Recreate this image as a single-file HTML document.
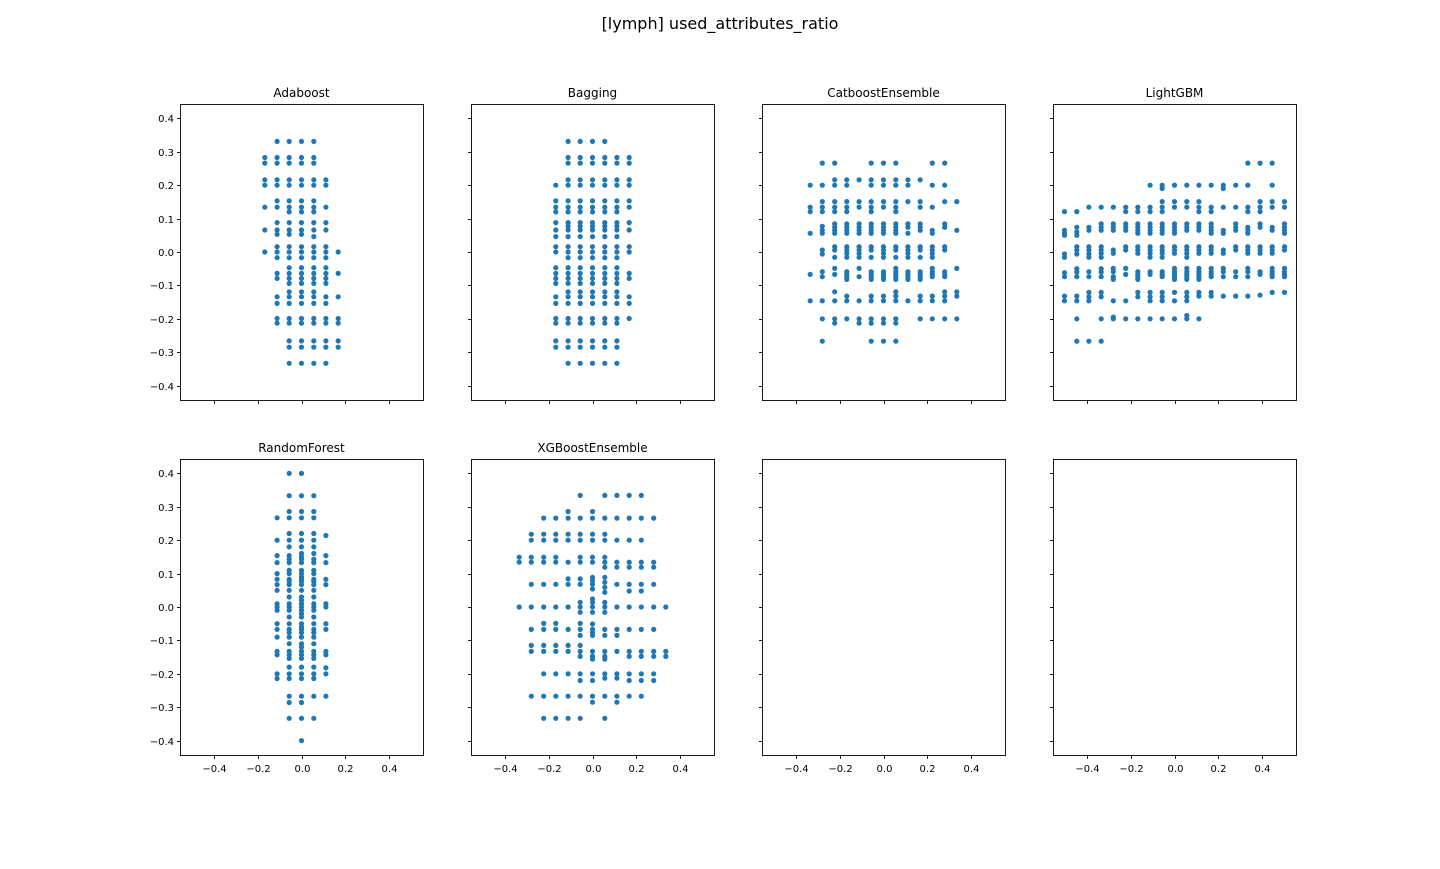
<!DOCTYPE html>
<html><head><meta charset="utf-8"><style>
body{margin:0;background:#fff}
svg text{font-family:"DejaVu Sans","Liberation Sans",sans-serif;fill:#000}
</style></head><body>
<svg id="fig" width="1440" height="864" xmlns="http://www.w3.org/2000/svg">
<rect width="1440" height="864" fill="#fff"/>
<text x="720" y="29" font-size="16" text-anchor="middle">[lymph] used_attributes_ratio</text>
</svg>
<script>
const xTicks=[-0.4,-0.2,0,0.2,0.4];
const xTickLabels=["−0.4","−0.2","0.0","0.2","0.4"];
const yTicks=[0.4,0.3,0.2,0.1,0,-0.1,-0.2,-0.3,-0.4];
const yTickLabels=["0.4","0.3","0.2","0.1","0.0","−0.1","−0.2","−0.3","−0.4"];
const panelTitles=["Adaboost","Bagging","CatboostEnsemble","LightGBM","RandomForest","XGBoostEnsemble","",""];

const adaCols=[-0.167,-0.111,-0.056,0,0.056,0.111,0.167];
const adaYs=[
[0.283,0.266,0.216,0.2,0.134,0.066,0],
[0.331,0.283,0.266,0.216,0.2,0.153,0.134,0.088,0.066,0.053,0.016,0,-0.017,-0.064,-0.079,-0.134,-0.154,-0.199,-0.213],
[0.331,0.283,0.266,0.216,0.2,0.153,0.134,0.12,0.088,0.066,0.053,0.016,0,-0.017,-0.047,-0.064,-0.079,-0.094,-0.119,-0.134,-0.154,-0.199,-0.213,-0.266,-0.285,-0.333],
[0.331,0.283,0.266,0.216,0.2,0.153,0.134,0.12,0.088,0.066,0.053,0.016,0,-0.017,-0.047,-0.064,-0.079,-0.094,-0.119,-0.134,-0.154,-0.199,-0.213,-0.266,-0.285,-0.333],
[0.331,0.283,0.266,0.216,0.2,0.153,0.134,0.12,0.088,0.066,0.046,0.016,0,-0.017,-0.047,-0.064,-0.079,-0.094,-0.119,-0.134,-0.154,-0.199,-0.213,-0.266,-0.285,-0.333],
[0.216,0.2,0.134,0.088,0.066,0.016,0,-0.017,-0.047,-0.064,-0.079,-0.094,-0.134,-0.154,-0.199,-0.213,-0.266,-0.285,-0.333],
[0,-0.064,-0.134,-0.199,-0.213,-0.266,-0.285]];

const bagCols=[-0.167,-0.111,-0.056,0,0.056,0.111,0.167];
const bagYs=[
[0.2,0.153,0.134,0.12,0.088,0.066,0.046,0.016,0,-0.047,-0.064,-0.079,-0.094,-0.134,-0.154,-0.199,-0.213,-0.266,-0.285],
[0.331,0.283,0.266,0.216,0.2,0.153,0.134,0.12,0.088,0.077,0.066,0.046,0.016,0,-0.017,-0.047,-0.064,-0.079,-0.094,-0.119,-0.134,-0.154,-0.199,-0.213,-0.266,-0.285,-0.333],
[0.331,0.283,0.266,0.216,0.2,0.153,0.134,0.12,0.088,0.077,0.066,0.046,0.016,0,-0.017,-0.047,-0.064,-0.079,-0.094,-0.119,-0.134,-0.154,-0.199,-0.213,-0.266,-0.285,-0.333],
[0.331,0.283,0.266,0.216,0.2,0.153,0.134,0.12,0.088,0.077,0.066,0.046,0.016,0,-0.017,-0.047,-0.064,-0.079,-0.094,-0.119,-0.134,-0.154,-0.199,-0.213,-0.266,-0.285,-0.333],
[0.331,0.283,0.266,0.216,0.2,0.153,0.134,0.12,0.088,0.077,0.066,0.046,0.016,0,-0.017,-0.047,-0.064,-0.079,-0.094,-0.119,-0.134,-0.154,-0.199,-0.213,-0.266,-0.285,-0.333],
[0.283,0.266,0.216,0.2,0.153,0.134,0.12,0.088,0.077,0.066,0.046,0.016,0,-0.017,-0.047,-0.064,-0.079,-0.094,-0.119,-0.134,-0.154,-0.199,-0.213,-0.266,-0.285,-0.333],
[0.283,0.266,0.216,0.2,0.153,0.134,0.088,0.066,0.016,0,-0.064,-0.079,-0.134,-0.154,-0.199]];

const catCols=[-0.333,-0.278,-0.222,-0.167,-0.111,-0.056,0,0.056,0.111,0.167,0.222,0.278,0.333];
const catYs=[
[0.2,0.134,0.121,0.056,-0.067,-0.146],
[0.266,0.2,0.151,0.134,0.121,0.077,0.065,0.056,0.006,-0.006,-0.059,-0.074,-0.146,-0.2,-0.267],
[0.266,0.216,0.2,0.151,0.134,0.121,0.084,0.074,0.065,0.056,0.016,0.006,-0.016,-0.049,-0.067,-0.119,-0.146,-0.2,-0.213],
[0.216,0.2,0.151,0.134,0.121,0.084,0.074,0.065,0.056,0.016,0.006,-0.004,-0.016,-0.059,-0.067,-0.074,-0.082,-0.132,-0.146,-0.2],
[0.216,0.151,0.134,0.084,0.074,0.065,0.056,0.016,0.006,-0.004,-0.016,-0.049,-0.074,-0.146,-0.2,-0.213],
[0.266,0.216,0.2,0.151,0.134,0.121,0.084,0.074,0.065,0.056,0.016,0.006,-0.016,-0.059,-0.067,-0.074,-0.082,-0.132,-0.146,-0.2,-0.213,-0.267],
[0.266,0.216,0.2,0.151,0.134,0.084,0.074,0.065,0.056,0.016,0.006,-0.004,-0.016,-0.059,-0.067,-0.074,-0.082,-0.132,-0.146,-0.2,-0.213,-0.267],
[0.266,0.216,0.2,0.151,0.134,0.121,0.084,0.074,0.065,0.056,0.016,0.006,-0.016,-0.049,-0.059,-0.067,-0.074,-0.082,-0.119,-0.132,-0.146,-0.2,-0.213,-0.267],
[0.216,0.2,0.151,0.084,0.074,0.056,0.016,0.006,-0.004,-0.016,-0.059,-0.067,-0.074,-0.082,-0.146],
[0.216,0.151,0.134,0.084,0.074,0.065,0.016,0.006,-0.016,-0.059,-0.067,-0.074,-0.082,-0.132,-0.146,-0.2],
[0.266,0.2,0.134,0.065,0.056,0.016,0.006,-0.004,-0.016,-0.049,-0.059,-0.067,-0.074,-0.132,-0.146,-0.2],
[0.266,0.2,0.151,0.084,0.074,0.016,0.006,-0.059,-0.067,-0.074,-0.119,-0.132,-0.146,-0.2],
[0.151,0.065,-0.049,-0.119,-0.132,-0.2]];

const lgbCols=[-0.5,-0.444,-0.389,-0.333,-0.278,-0.222,-0.167,-0.111,-0.056,0,0.056,0.111,0.167,0.222,0.278,0.333,0.389,0.444,0.5];
const lgbYs=[
[0.121,0.065,0.056,0.05,-0.006,-0.016,-0.062,-0.074,-0.132,-0.146],
[0.121,0.074,0.06,0.05,0.016,0.006,-0.006,-0.05,-0.06,-0.074,-0.132,-0.146,-0.2,-0.267],
[0.134,0.074,0.065,0.016,0.006,-0.006,-0.016,-0.059,-0.074,-0.121,-0.134,-0.146,-0.267],
[0.134,0.084,0.074,0.065,0.016,0.006,-0.004,-0.016,-0.05,-0.06,-0.074,-0.121,-0.134,-0.2,-0.267],
[0.134,0.084,0.074,0.065,0.006,-0.004,-0.049,-0.059,-0.074,-0.082,-0.146,-0.195,-0.2],
[0.134,0.121,0.084,0.074,0.065,0.016,0.006,-0.049,-0.067,-0.146,-0.2],
[0.134,0.121,0.084,0.074,0.065,0.056,0.016,0.006,-0.004,-0.059,-0.067,-0.074,-0.082,-0.121,-0.134,-0.2],
[0.2,0.134,0.121,0.084,0.074,0.065,0.056,0.016,0.006,-0.004,-0.016,-0.059,-0.067,-0.121,-0.134,-0.146,-0.2],
[0.2,0.19,0.151,0.134,0.121,0.084,0.074,0.065,0.056,0.016,0.006,-0.004,-0.016,-0.059,-0.067,-0.074,-0.121,-0.134,-0.146,-0.2],
[0.2,0.151,0.134,0.084,0.074,0.065,0.056,0.016,0.006,-0.004,-0.049,-0.059,-0.067,-0.074,-0.082,-0.121,-0.146,-0.2],
[0.2,0.151,0.134,0.084,0.074,0.065,0.016,0.006,-0.004,-0.016,-0.049,-0.059,-0.067,-0.074,-0.082,-0.121,-0.134,-0.146,-0.2,-0.19],
[0.2,0.151,0.134,0.121,0.084,0.074,0.065,0.016,0.006,-0.004,-0.049,-0.059,-0.067,-0.074,-0.082,-0.121,-0.132,-0.2],
[0.2,0.134,0.121,0.084,0.074,0.065,0.056,0.016,0.006,-0.004,-0.049,-0.059,-0.067,-0.074,-0.121,-0.132],
[0.2,0.19,0.134,0.065,0.056,0.006,-0.004,-0.049,-0.059,-0.074,-0.132],
[0.2,0.134,0.084,0.074,0.065,0.016,0.006,-0.059,-0.074,-0.132],
[0.266,0.2,0.134,0.121,0.074,0.065,0.056,0.016,0.006,-0.004,-0.049,-0.059,-0.074,-0.132],
[0.266,0.151,0.134,0.121,0.084,0.074,0.016,0.006,-0.004,-0.059,-0.067,-0.129],
[0.266,0.2,0.151,0.134,0.074,0.065,0.016,0.006,-0.004,-0.049,-0.059,-0.067,-0.074,-0.121],
[0.151,0.134,0.084,0.074,0.065,0.056,0.016,0.006,-0.049,-0.059,-0.067,-0.074,-0.121]];

const rfCols=[-0.111,-0.056,0,0.056,0.111];
const rfYs=[
[0.267,0.2,0.154,0.133,0.1,0.083,0.067,0.05,0.01,0,-0.01,-0.05,-0.067,-0.09,-0.133,-0.143,-0.2,-0.214],
[0.4,0.333,0.286,0.267,0.22,0.2,0.18,0.154,0.143,0.133,0.11,0.1,0.083,0.077,0.067,0.05,0.03,0.01,0,-0.01,-0.03,-0.05,-0.067,-0.077,-0.09,-0.11,-0.133,-0.143,-0.154,-0.18,-0.2,-0.214,-0.267,-0.286,-0.333],
[0.4,0.333,0.286,0.267,0.22,0.2,0.18,0.16,0.15,0.143,0.133,0.11,0.1,0.09,0.083,0.077,0.067,0.05,0.03,0.02,0.01,0,-0.01,-0.02,-0.03,-0.05,-0.06,-0.067,-0.077,-0.09,-0.11,-0.12,-0.133,-0.143,-0.154,-0.18,-0.2,-0.214,-0.267,-0.286,-0.333,-0.4],
[0.333,0.286,0.267,0.22,0.2,0.18,0.16,0.143,0.133,0.11,0.1,0.083,0.077,0.067,0.05,0.03,0.01,0,-0.01,-0.03,-0.05,-0.067,-0.077,-0.09,-0.11,-0.133,-0.143,-0.154,-0.18,-0.2,-0.214,-0.267,-0.333],
[0.214,0.154,0.133,0.083,0.067,0.01,0,-0.05,-0.067,-0.133,-0.143,-0.182,-0.2,-0.267]];

const xgbCols=[-0.333,-0.278,-0.222,-0.167,-0.111,-0.056,0,0.056,0.111,0.167,0.222,0.278,0.333];
const xgbYs=[
[0.149,0.134,0],
[0.218,0.2,0.149,0.134,0.068,0,-0.067,-0.115,-0.133,-0.267],
[0.266,0.218,0.2,0.149,0.134,0.068,0,-0.049,-0.067,-0.115,-0.133,-0.2,-0.267,-0.333],
[0.266,0.218,0.2,0.149,0.134,0.068,0,-0.049,-0.067,-0.115,-0.133,-0.2,-0.267,-0.333],
[0.286,0.266,0.218,0.2,0.134,0.084,0.068,0,-0.067,-0.115,-0.133,-0.2,-0.267,-0.333],
[0.334,0.266,0.218,0.2,0.149,0.134,0.084,0.068,0.014,0,-0.016,-0.049,-0.067,-0.085,-0.115,-0.133,-0.148,-0.2,-0.22,-0.267,-0.333],
[0.286,0.266,0.218,0.2,0.149,0.134,0.089,0.079,0.068,0.054,0.024,0.014,0,-0.016,-0.051,-0.067,-0.076,-0.085,-0.133,-0.148,-0.156,-0.2,-0.22,-0.267,-0.285],
[0.334,0.266,0.218,0.2,0.149,0.134,0.119,0.089,0.074,0.059,0.044,0.014,0,-0.016,-0.067,-0.085,-0.133,-0.148,-0.156,-0.2,-0.213,-0.267,-0.333],
[0.334,0.266,0.2,0.134,0.119,0.068,0,-0.067,-0.085,-0.133,-0.2,-0.213,-0.267,-0.285],
[0.334,0.266,0.2,0.134,0.119,0.068,0.048,0,-0.067,-0.133,-0.148,-0.2,-0.22,-0.267],
[0.334,0.266,0.2,0.134,0.119,0.068,0.048,0,-0.067,-0.133,-0.148,-0.2,-0.22,-0.267],
[0.266,0.134,0.119,0.068,0,-0.067,-0.133,-0.148,-0.2,-0.22],
[0,-0.133,-0.148]];

const panelCols=[adaCols,bagCols,catCols,lgbCols,rfCols,xgbCols,[],[]];
const panelYs=[adaYs,bagYs,catYs,lgbYs,rfYs,xgbYs,[],[]];

const NS="http://www.w3.org/2000/svg";
const svg=document.getElementById('fig');
const colLeft=[180,471,762,1053], W=243, rowTop=[104,459], H=296;
const XMIN=-0.5523, XMAX=0.5523, YMIN=-0.443, YMAX=0.443;
function mk(tag,attrs,parent){const e=document.createElementNS(NS,tag);for(const k in attrs)e.setAttribute(k,attrs[k]);(parent||svg).appendChild(e);return e;}

for(let p=0;p<8;p++){
  const L=colLeft[p%4], T=rowTop[Math.floor(p/4)], row=Math.floor(p/4), col=p%4;
  const xs=v=>L+(v-XMIN)/(XMAX-XMIN)*W;
  const ys=v=>T+(YMAX-v)/(YMAX-YMIN)*H;
  const g=mk('g',{});
  
  
  const pts=mk('g',{fill:'#1f77b4'},g);
  
  
  const cols=panelCols[p], yv=panelYs[p];
  for(let i=0;i<cols.length;i++){
    for(const y of yv[i]){
      const c=mk('circle',{cx:xs(cols[i]).toFixed(1),cy:ys(y).toFixed(1),r:2.6},pts);
      
      
    }
  }
  const fr=mk('rect',{x:L+0.5,y:T+0.5,width:W,height:H,fill:'none',stroke:'#000','stroke-width':0.9},g);
  
  
  if(panelTitles[p]){
    const t=mk('text',{x:L+W/2,y:T-7,'font-size':12,'text-anchor':'middle'},g);
    t.textContent=panelTitles[p];
    
    
  }
  xTicks.forEach((v,i)=>{
    const x=Math.round(xs(v))+0.5;
    mk('line',{x1:x,x2:x,y1:T+H+0.5,y2:T+H+4,stroke:'#000','stroke-width':0.9},g);
    if(row===1){
      const t=mk('text',{x:x,y:T+H+17,'font-size':10,'text-anchor':'middle'},g);
      t.textContent=xTickLabels[i];
      
      
    }
  });
  yTicks.forEach((v,i)=>{
    const y=Math.round(ys(v))+0.5;
    mk('line',{x1:L+0.5,x2:L-3,y1:y,y2:y,stroke:'#000','stroke-width':0.9},g);
    if(col===0){
      const t=mk('text',{x:L-6,y:y+3.5,'font-size':10,'text-anchor':'end'},g);
      t.textContent=yTickLabels[i];
      
      
    }
  });
}
</script>
</body></html>
